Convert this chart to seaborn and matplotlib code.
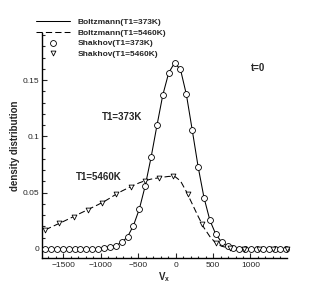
import matplotlib
matplotlib.use('Agg')
import matplotlib.pyplot as plt
import seaborn as sns
from matplotlib.ticker import MultipleLocator, FuncFormatter

# discrete velocity grid (Boltzmann curves and Shakhov T1=373K markers)
v_fine = [-1740, -1661.5, -1583, -1504.5, -1426, -1347.5, -1269, -1190.5,
          -1112, -1033.5, -955, -876.5, -798, -719.5, -641, -562.5, -484,
          -405.5, -327, -248.5, -170, -91.5, -13, 65.5, 144, 222.5, 301,
          379.5, 458, 536.5, 615, 693.5, 772, 850.5, 929, 1007.5, 1086,
          1164.5, 1243, 1321.5, 1400, 1478.5]

boltz_373 = [0, 0, 0, 0, 0, 0, 0, 0, 0, 0, 0.001, 0.002, 0.003, 0.0058,
             0.0108, 0.0208, 0.0354, 0.056, 0.0814, 0.1098, 0.137, 0.1566,
             0.1655, 0.1596, 0.1374, 0.1057, 0.0731, 0.0456, 0.0255, 0.0131,
             0.006, 0.0022, 0.0008, 0.0003, 0, 0, 0, 0, 0, 0, 0, 0]
shakhov_373 = list(boltz_373)

boltz_5460 = [0.017, 0.0194, 0.0218, 0.0242, 0.0267, 0.0292, 0.0318, 0.0343,
              0.0369, 0.0394, 0.0421, 0.0452, 0.0485, 0.0514, 0.054, 0.0565,
              0.0588, 0.0607, 0.0621, 0.063, 0.0638, 0.0645, 0.0646, 0.0605,
              0.051, 0.04, 0.029, 0.0188, 0.011, 0.0052, 0.0024, 0.0012,
              0.0006, 0.0003, 0.0002, 0.0001, 0, 0, 0, 0, 0, 0]

# coarser grid for the Shakhov T1=5460K markers
v_coarse = [-1740, -1550, -1360, -1170, -980, -790, -600, -410, -220, -30,
            160, 350, 540, 730, 920, 1110, 1300, 1490]
shakhov_5460 = [0.017, 0.0228, 0.0288, 0.035, 0.0412, 0.0488, 0.0553, 0.0607,
                0.0633, 0.0648, 0.049, 0.0222, 0.005, 0.001, 0.0003, 0, 0, 0]

labels = ['Boltzmann(T1=373K)', 'Boltzmann(T1=5460K)',
          'Shakhov(T1=373K)', 'Shakhov(T1=5460K)']

sns.set_style('white')
plt.rcParams['font.family'] = ['Liberation Sans', 'DejaVu Sans']

fig = plt.figure(figsize=(3.27, 2.91), dpi=100)
ax = fig.add_axes([0.1284, 0.1124, 0.7492, 0.7742])

sns.lineplot(x=v_fine, y=boltz_373, ax=ax, color='k', lw=0.75,
             label=labels[0], sort=False)
sns.lineplot(x=v_fine, y=boltz_5460, ax=ax, color='k', lw=0.75,
             label=labels[1], sort=False)
ax.lines[-1].set_dashes((6, 3))
sns.scatterplot(x=v_fine, y=shakhov_373, ax=ax, marker='o', s=18,
                facecolor='white', edgecolor='k', linewidth=0.6,
                label=labels[2], clip_on=False, zorder=3)
sns.scatterplot(x=v_coarse, y=shakhov_5460, ax=ax, marker='v', s=12,
                facecolor='white', edgecolor='k', linewidth=0.6,
                label=labels[3], clip_on=False, zorder=4)

ax.set_xlim(-1783, 1487)
ax.set_ylim(-0.0083, 0.192)
ax.xaxis.set_major_locator(MultipleLocator(500))
ax.xaxis.set_minor_locator(MultipleLocator(100))
ax.yaxis.set_major_locator(MultipleLocator(0.05))
ax.yaxis.set_minor_locator(MultipleLocator(0.01))
ax.yaxis.set_major_formatter(FuncFormatter(lambda y, p: '%g' % round(y, 3)))
ax.tick_params(which='both', direction='in', width=0.8, labelsize=6,
               left=True, bottom=True)
ax.tick_params(which='major', length=3.5)
ax.tick_params(which='minor', length=1.8)
ax.tick_params(axis='y', pad=2)
ax.tick_params(axis='x', pad=3)
sns.despine(ax=ax)
for s in ['left', 'bottom']:
    ax.spines[s].set_linewidth(1.0)
    ax.spines[s].set_color('k')

ax.set_ylabel('density distribution', fontsize=7, fontweight='bold')
ax.yaxis.set_label_coords(-0.09, 0.5)
ax.set_xlabel(r'V$_\mathregular{x}$', fontsize=7, fontweight='bold')
ax.xaxis.set_label_coords(0.5, -0.055)

ax.text(-720, 0.1175, 'T1=373K', fontsize=7, fontweight='bold',
        ha='center', va='center')
ax.text(-1032, 0.0642, 'T1=5460K', fontsize=7, fontweight='bold',
        ha='center', va='center')
ax.text(1097, 0.1607, 't=0', fontsize=7, fontweight='bold',
        ha='center', va='center')

handles, labs = ax.get_legend_handles_labels()
ax.legend_.remove()
fig.legend(handles, labs, loc='upper left', bbox_to_anchor=(0.11, 0.937),
           frameon=False, prop={'size': 6, 'weight': 'bold'},
           handlelength=4.1, handletextpad=0.9, labelspacing=0.32,
           borderpad=0, borderaxespad=0, scatterpoints=1)

plt.savefig('out.png', dpi=100)
plt.close()
